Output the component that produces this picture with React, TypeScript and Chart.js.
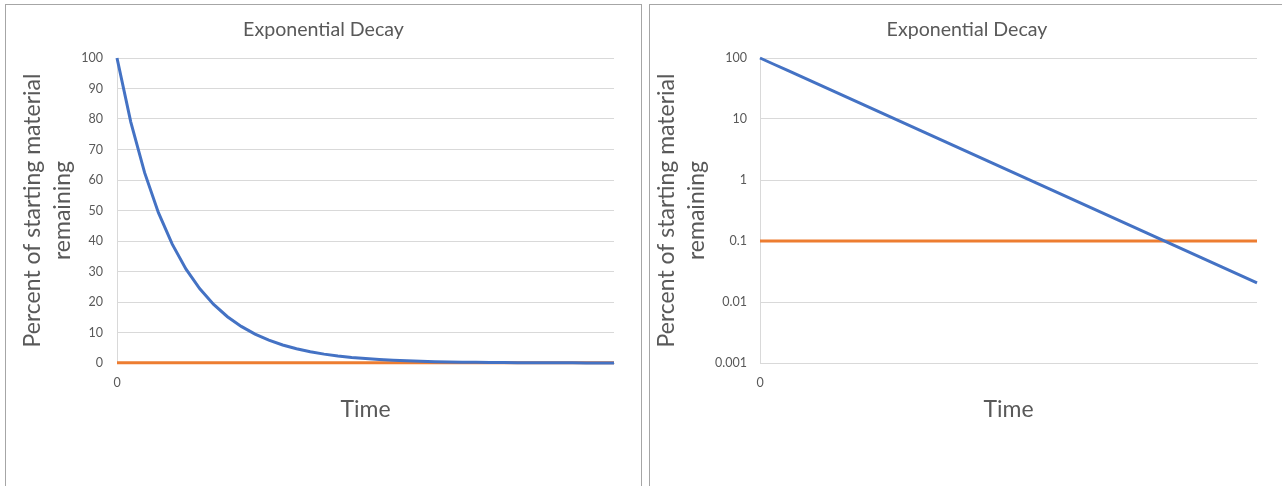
import React, { useEffect, useRef } from "react";
import { Chart, registerables } from "chart.js";

Chart.register(...registerables);

// ---- data ----
const timeSteps = [
  0, 1, 2, 3, 4, 5, 6, 7, 8, 9, 10, 11, 12, 13, 14, 15, 16, 17, 18, 19, 20,
  21, 22, 23, 24, 25, 26, 27, 28, 29, 30, 31, 32, 33, 34, 35, 36,
];
const remainingPercent = [
  100, 79, 62.41, 49.3, 38.95, 30.77, 24.31, 19.2, 15.17, 11.99, 9.468, 7.48,
  5.909, 4.668, 3.688, 2.914, 2.302, 1.818, 1.437, 1.135, 0.897, 0.708, 0.56,
  0.442, 0.349, 0.276, 0.218, 0.172, 0.136, 0.107, 0.0848, 0.067, 0.0529,
  0.0418, 0.033, 0.0261, 0.0206,
];
const thresholdPercent = [
  0.1, 0.1, 0.1, 0.1, 0.1, 0.1, 0.1, 0.1, 0.1, 0.1, 0.1, 0.1, 0.1, 0.1, 0.1,
  0.1, 0.1, 0.1, 0.1, 0.1, 0.1, 0.1, 0.1, 0.1, 0.1, 0.1, 0.1, 0.1, 0.1, 0.1,
  0.1, 0.1, 0.1, 0.1, 0.1, 0.1, 0.1,
];
const linearTicks = [0, 10, 20, 30, 40, 50, 60, 70, 80, 90, 100];
const logTicks = [0.001, 0.01, 0.1, 1, 10, 100];
const logTickLabels = ["0.001", "0.01", "0.1", "1", "10", "100"];
const xTickValues = [0];
const xTickLabels = ["0"];

const chartTitle = "Exponential Decay";
const yTitle = ["Percent of starting material", "remaining"];
const xTitle = "Time";

const TEXT = "#595959";
const GRID = "#d9d9d9";
const FONT = "Lato, 'Open Sans', sans-serif";
const BLUE = "#4472C4";
const ORANGE = "#ED7D31";

type Cfg = {
  log: boolean;
  padLeft: number;
  padRight: number;
  yWidth: number;
  yTickPad: number;
  yTitleShift: number;
};

function DecayChart({ cfg, width, height }: { cfg: Cfg; width: number; height: number }) {
  const ref = useRef<HTMLCanvasElement | null>(null);
  useEffect(() => {
    if (!ref.current) return;
    const toXY = (vals: number[]) => timeSteps.map((t, i) => ({ x: t, y: vals[i] }));
    const yTitleOpts = {
      display: true,
      text: yTitle,
      color: TEXT,
      font: { family: FONT, size: 23, lineHeight: 30 / 23 },
      padding: { top: cfg.yTitleShift - 15, bottom: 0 },
    };
    const yTickOpts = (labels: string[]) => ({
      padding: cfg.yTickPad,
      color: TEXT,
      font: { family: FONT, size: 12.5 },
      callback: (_v: any, i: number) => labels[i],
    });
    const chart = new Chart(ref.current, {
      type: "line",
      data: {
        datasets: [
          {
            label: "Remaining",
            data: toXY(remainingPercent),
            borderColor: BLUE,
            borderWidth: 3,
            pointRadius: 0,
            tension: 0,
            clip: false as any,
          },
          {
            label: "Threshold",
            data: toXY(thresholdPercent),
            borderColor: ORANGE,
            borderWidth: 3,
            pointRadius: 0,
            tension: 0,
            clip: false as any,
          },
        ],
      },
      options: {
        responsive: false,
        animation: false,
        devicePixelRatio: 1,
        layout: { padding: { left: cfg.padLeft, right: cfg.padRight, top: 0, bottom: 62.2 } },
        plugins: {
          legend: { display: false },
          tooltip: { enabled: false },
          title: {
            display: true,
            text: chartTitle,
            color: TEXT,
            font: { family: FONT, size: 19.6, weight: "normal", lineHeight: 1.2 },
            padding: { top: 13.24, bottom: 16.24 },
          },
        },
        scales: {
          x: {
            type: "linear",
            min: timeSteps[0],
            max: timeSteps[timeSteps.length - 1],
            afterBuildTicks: (s: any) => {
              s.ticks = xTickValues.map((v) => ({ value: v }));
            },
            afterFit: (s: any) => {
              s.height = 60.8;
            },
            ticks: {
              padding: 12,
              color: TEXT,
              font: { family: FONT, size: 12.5, lineHeight: 1.2 },
              maxRotation: 0,
              callback: (_v: any, i: number) => xTickLabels[i],
            },
            grid: { display: false, drawTicks: false },
            border: { display: true, color: GRID, width: 1 },
            title: {
              display: true,
              text: xTitle,
              color: TEXT,
              font: { family: FONT, size: 23, lineHeight: 1.2 },
              padding: 0,
            },
          },
          y: cfg.log
            ? {
                type: "logarithmic",
                min: logTicks[0],
                max: logTicks[logTicks.length - 1],
                afterBuildTicks: (s: any) => {
                  s.ticks = logTicks.map((v) => ({ value: v }));
                },
                afterFit: (s: any) => {
                  s.width = cfg.yWidth;
                },
                ticks: yTickOpts(logTickLabels),
                grid: { color: GRID, lineWidth: 1, drawTicks: false },
                border: { display: true, color: GRID, width: 1 },
                title: yTitleOpts,
              }
            : {
                type: "linear",
                min: linearTicks[0],
                max: linearTicks[linearTicks.length - 1],
                afterBuildTicks: (s: any) => {
                  s.ticks = linearTicks.map((v) => ({ value: v }));
                },
                afterFit: (s: any) => {
                  s.width = cfg.yWidth;
                },
                ticks: yTickOpts(linearTicks.map((v) => String(v))),
                grid: { color: GRID, lineWidth: 1, drawTicks: false },
                border: { display: true, color: GRID, width: 1 },
                title: yTitleOpts,
              },
        },
      } as any,
    });
    return () => chart.destroy();
  }, [cfg]);
  return <canvas ref={ref} width={width} height={height} style={{ display: "block" }} />;
}

// canvas left at page x=6 (left) and x=650 (right)
const leftCfg: Cfg = { log: false, padLeft: 27, padRight: 27, yWidth: 84, yTickPad: 14, yTitleShift: 0 };
const rightCfg: Cfg = { log: true, padLeft: 27, padRight: 28, yWidth: 83, yTickPad: 13, yTitleShift: -10 };

export default function App() {
  const panel = (left: number): React.CSSProperties => ({
    position: "absolute",
    left,
    top: 4,
    width: 635,
    height: 520,
    border: "1px solid #a6a6a6",
    background: "#fff",
  });
  return (
    <div
      style={{
        position: "fixed",
        left: 0,
        top: 0,
        width: 1282,
        height: 486,
        overflow: "hidden",
        background: "#fff",
      }}
    >
      <div style={panel(5)}>
        <DecayChart cfg={leftCfg} width={635} height={481} />
      </div>
      <div style={panel(649)}>
        <DecayChart cfg={rightCfg} width={635} height={481} />
      </div>
    </div>
  );
}
